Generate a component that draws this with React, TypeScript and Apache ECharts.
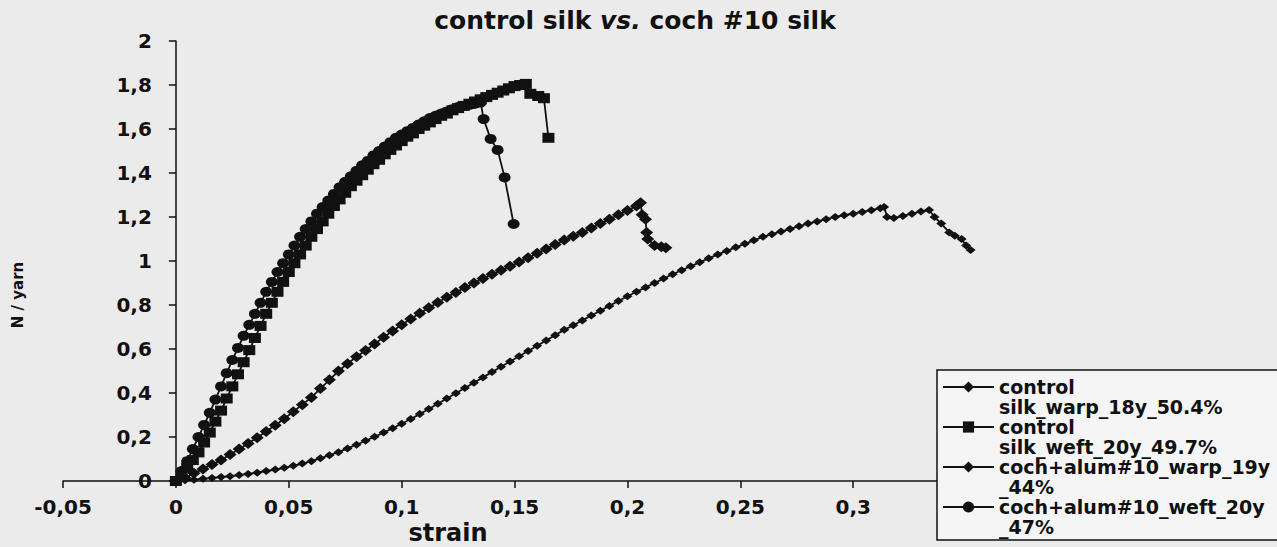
import React, { useEffect, useRef } from "react";
import * as echarts from "echarts";

// control silk warp (large diamonds)
const ctrlWarpStrain = [
  0, 0.004, 0.008, 0.012, 0.016, 0.02, 0.024, 0.028, 0.032, 0.036,
  0.04, 0.044, 0.048, 0.052, 0.056, 0.06, 0.064, 0.068, 0.072, 0.076,
  0.08, 0.084, 0.088, 0.092, 0.096, 0.1, 0.104, 0.108, 0.112, 0.116,
  0.12, 0.124, 0.128, 0.132, 0.136, 0.14, 0.144, 0.148, 0.152, 0.156,
  0.16, 0.164, 0.168, 0.172, 0.176, 0.18, 0.184, 0.188, 0.192, 0.196,
  0.2, 0.204, 0.2058, 0.2065, 0.208, 0.2085, 0.209, 0.212, 0.215, 0.217,
];
const ctrlWarpForce = [
  0, 0.015, 0.035, 0.055, 0.075, 0.095, 0.12, 0.145, 0.17, 0.197,
  0.225, 0.253, 0.283, 0.315, 0.347, 0.38, 0.42, 0.46, 0.5, 0.533,
  0.565, 0.593, 0.623, 0.653, 0.682, 0.71, 0.736, 0.762, 0.787, 0.811,
  0.835, 0.857, 0.879, 0.9, 0.92, 0.94, 0.958, 0.976, 0.995, 1.015,
  1.035, 1.055, 1.075, 1.095, 1.112, 1.13, 1.15, 1.17, 1.19, 1.21,
  1.23, 1.25, 1.265, 1.21, 1.19, 1.13, 1.1, 1.07, 1.065, 1.06,
];

// control silk weft (squares)
const ctrlWeftStrain = [
  0, 0.0025, 0.005, 0.0075, 0.01, 0.0125, 0.015, 0.0175, 0.02, 0.0225,
  0.025, 0.0275, 0.03, 0.0325, 0.035, 0.0375, 0.04, 0.0425, 0.045, 0.0475,
  0.05, 0.0525, 0.055, 0.0575, 0.06, 0.0625, 0.065, 0.0675, 0.07, 0.0725,
  0.075, 0.0775, 0.08, 0.0825, 0.085, 0.0875, 0.09, 0.0925, 0.095, 0.0975,
  0.1, 0.1025, 0.105, 0.1075, 0.11, 0.1125, 0.115, 0.1175, 0.12, 0.1225,
  0.125, 0.1275, 0.13, 0.1325, 0.135, 0.1375, 0.14, 0.1425, 0.145, 0.1475,
  0.15, 0.1525, 0.155, 0.157, 0.1605, 0.163, 0.165,
];
const ctrlWeftForce = [
  0, 0.025, 0.06, 0.095, 0.13, 0.175, 0.22, 0.27, 0.32, 0.375,
  0.43, 0.485, 0.54, 0.595, 0.65, 0.705, 0.76, 0.81, 0.86, 0.905,
  0.95, 0.99, 1.03, 1.07, 1.11, 1.145, 1.18, 1.215, 1.25, 1.28,
  1.31, 1.34, 1.365, 1.39, 1.415, 1.44, 1.46, 1.485, 1.505, 1.525,
  1.545, 1.565, 1.58, 1.6, 1.615, 1.63, 1.645, 1.66, 1.67, 1.685,
  1.695, 1.705, 1.715, 1.725, 1.735, 1.745, 1.755, 1.765, 1.775, 1.785,
  1.795, 1.8, 1.805, 1.76, 1.75, 1.74, 1.56,
];

// coch+alum #10 warp (small diamonds)
const cochWarpStrain = [
  0, 0.004, 0.008, 0.012, 0.016, 0.02, 0.024, 0.028, 0.032, 0.036,
  0.04, 0.044, 0.048, 0.052, 0.056, 0.06, 0.064, 0.068, 0.072, 0.076,
  0.08, 0.084, 0.088, 0.092, 0.096, 0.1, 0.104, 0.108, 0.112, 0.116,
  0.12, 0.124, 0.128, 0.132, 0.136, 0.14, 0.144, 0.148, 0.152, 0.156,
  0.16, 0.164, 0.168, 0.172, 0.176, 0.18, 0.184, 0.188, 0.192, 0.196,
  0.2, 0.204, 0.208, 0.212, 0.216, 0.22, 0.224, 0.228, 0.232, 0.236,
  0.24, 0.244, 0.248, 0.252, 0.256, 0.26, 0.264, 0.268, 0.272, 0.276,
  0.28, 0.284, 0.288, 0.292, 0.296, 0.3, 0.304, 0.308, 0.312,
  0.3137, 0.315, 0.318, 0.322, 0.326, 0.33, 0.3336, 0.336, 0.339, 0.3425,
  0.345, 0.348, 0.35, 0.352,
];
const cochWarpForce = [
  0, 0.003, 0.006, 0.01, 0.014, 0.018, 0.022, 0.027, 0.032, 0.038,
  0.045, 0.052, 0.06, 0.069, 0.079, 0.09, 0.103, 0.117, 0.131, 0.148,
  0.165, 0.183, 0.201, 0.22, 0.24, 0.26, 0.282, 0.304, 0.327, 0.351,
  0.375, 0.399, 0.423, 0.447, 0.471, 0.495, 0.519, 0.543, 0.567, 0.591,
  0.615, 0.639, 0.663, 0.687, 0.708, 0.73, 0.752, 0.774, 0.796, 0.818,
  0.84, 0.86, 0.88, 0.9, 0.92, 0.94, 0.958, 0.976, 0.994, 1.012,
  1.03, 1.046, 1.062, 1.078, 1.094, 1.11, 1.122, 1.134, 1.146, 1.158,
  1.17, 1.18, 1.19, 1.2, 1.208, 1.215, 1.223, 1.231, 1.24,
  1.245, 1.2, 1.195, 1.205, 1.215, 1.225, 1.232, 1.2, 1.17, 1.13,
  1.115, 1.1, 1.07, 1.05,
];

// coch+alum #10 weft (circles)
const cochWeftStrain = [
  0, 0.0025, 0.005, 0.0075, 0.01, 0.0125, 0.015, 0.0175, 0.02, 0.0225,
  0.025, 0.0275, 0.03, 0.0325, 0.035, 0.0375, 0.04, 0.0425, 0.045, 0.0475,
  0.05, 0.0525, 0.055, 0.0575, 0.06, 0.0625, 0.065, 0.0675, 0.07, 0.0725,
  0.075, 0.0775, 0.08, 0.0825, 0.085, 0.0875, 0.09, 0.0925, 0.095, 0.0975,
  0.1, 0.1025, 0.105, 0.1075, 0.11, 0.1125, 0.115, 0.1175, 0.12, 0.1225,
  0.125, 0.1275, 0.13, 0.1325, 0.135, 0.1363, 0.1394, 0.1425, 0.1456, 0.1496,
];
const cochWeftForce = [
  0, 0.045, 0.09, 0.145, 0.2, 0.255, 0.31, 0.37, 0.43, 0.49,
  0.55, 0.605, 0.66, 0.71, 0.76, 0.81, 0.86, 0.905, 0.95, 0.99,
  1.03, 1.07, 1.11, 1.145, 1.18, 1.215, 1.245, 1.275, 1.305, 1.335,
  1.36, 1.385, 1.41, 1.435, 1.455, 1.48, 1.5, 1.52, 1.54, 1.56,
  1.575, 1.59, 1.605, 1.62, 1.635, 1.65, 1.66, 1.67, 1.68, 1.69,
  1.7, 1.705, 1.71, 1.715, 1.72, 1.645, 1.555, 1.505, 1.38, 1.168,
];

const seriesNames = [
  "control\nsilk_warp_18y_50.4%",
  "control\nsilk_weft_20y_49.7%",
  "coch+alum#10_warp_19y\n_44%",
  "coch+alum#10_weft_20y\n_47%",
];

const FONT = '"DejaVu Sans", "Liberation Sans", sans-serif';
const INK = "#111111";

const X_MIN = -0.05;
const X_MAX = 0.4;
const GRID_LEFT = 63;
const GRID_RIGHT = 198;
const CHART_W = 1277;

const pair = (xs: number[], ys: number[]) =>
  xs.slice(0, Math.min(xs.length, ys.length)).map((x, i) => [x, ys[i]]);

const fmt = (v: number) => {
  const r = Math.round(v * 1000) / 1000;
  return String(r).replace(".", ",");
};

export default function App() {
  const ref = useRef<HTMLDivElement>(null);

  useEffect(() => {
    if (!ref.current) return;
    const chart = echarts.init(ref.current, undefined, { renderer: "svg" });

    // shift the y axis from the grid's left edge to strain = 0
    const plotW = CHART_W - GRID_LEFT - GRID_RIGHT;
    const zeroShift = (plotW * (0 - X_MIN)) / (X_MAX - X_MIN);

    const mk = (
      name: string,
      data: number[][],
      symbol: string,
      size: number[],
      z: number
    ) => ({
      name,
      type: "line",
      data,
      symbol,
      symbolSize: size,
      showSymbol: true,
      showAllSymbol: true,
      clip: false,
      z,
      lineStyle: { color: INK, width: 1.8 },
      itemStyle: { color: INK },
      emphasis: { disabled: true },
    });

    chart.setOption({
      animation: false,
      backgroundColor: "#ebebeb",
      title: {
        text: "{a|control silk }{b|vs.}{a| coch #10 silk}",
        left: 630,
        textAlign: "center",
        top: 3,
        textStyle: {
          rich: {
            a: { fontFamily: FONT, fontWeight: "bold", fontSize: 25, color: INK },
            b: {
              fontFamily: FONT,
              fontWeight: "bold",
              fontStyle: "italic",
              fontSize: 25,
              color: INK,
            },
          },
        },
      },
      graphic: [
        {
          type: "text",
          x: 18,
          y: 295,
          rotation: Math.PI / 2,
          z: 10,
          style: {
            text: "N / yarn",
            font: 'bold 15px "DejaVu Sans", sans-serif',
            fill: INK,
            align: "center",
            verticalAlign: "middle",
          },
        },
      ],
      grid: {
        left: GRID_LEFT,
        right: GRID_RIGHT,
        top: 41,
        bottom: 66,
        containLabel: false,
        outerBoundsMode: "none",
      },
      xAxis: {
        type: "value",
        min: X_MIN,
        max: X_MAX,
        interval: 0.05,
        name: "strain",
        nameLocation: "middle",
        nameGap: 40,
        nameMoveOverlap: false,
        nameTextStyle: {
          fontFamily: FONT,
          fontWeight: "bold",
          fontSize: 24,
          lineHeight: 24,
          color: INK,
          padding: [0, 246, 0, 0],
        },
        axisLine: { onZero: false, lineStyle: { color: INK, width: 1.5 } },
        axisTick: { show: true, inside: false, length: 7, lineStyle: { color: INK, width: 1.5 } },
        axisLabel: {
          fontFamily: FONT,
          fontWeight: "bold",
          fontSize: 20,
          color: INK,
          margin: 16,
          formatter: (v: number) => (v > 0.31 ? "" : fmt(v)),
        },
        splitLine: { show: false },
      },
      yAxis: {
        type: "value",
        min: 0,
        max: 2,
        interval: 0.2,
        offset: -zeroShift,
        axisLine: { onZero: false, lineStyle: { color: INK, width: 1.5 } },
        axisTick: { show: true, inside: false, length: 7, lineStyle: { color: INK, width: 1.5 } },
        axisLabel: {
          fontFamily: FONT,
          fontWeight: "bold",
          fontSize: 20,
          color: INK,
          margin: 24,
          formatter: (v: number) => fmt(v),
        },
        splitLine: { show: false },
      },
      legend: {
        orient: "vertical",
        left: 937,
        top: 370,
        padding: [-13, 8, 3, 5],
        itemWidth: 51,
        itemHeight: 14,
        itemGap: -20,
        selectedMode: false,
        backgroundColor: "#f5f5f5",
        borderColor: INK,
        borderWidth: 1.5,
        formatter: (name: string) => "\n" + name,
        textStyle: {
          fontFamily: FONT,
          fontWeight: "bold",
          fontSize: 19,
          lineHeight: 20,
          color: INK,
        },
        data: seriesNames,
      },
      series: [
        mk(seriesNames[0], pair(ctrlWarpStrain, ctrlWarpForce), "diamond", [13, 11], 2),
        mk(seriesNames[1], pair(ctrlWeftStrain, ctrlWeftForce), "rect", [12, 10], 3),
        mk(seriesNames[2], pair(cochWarpStrain, cochWarpForce), "diamond", [10, 8], 4),
        mk(seriesNames[3], pair(cochWeftStrain, cochWeftForce), "circle", [12, 10], 5),
      ],
    });

    return () => chart.dispose();
  }, []);

  return (
    <div
      ref={ref}
      style={{ position: "fixed", left: 0, top: 0, width: 1277, height: 547 }}
    />
  );
}
